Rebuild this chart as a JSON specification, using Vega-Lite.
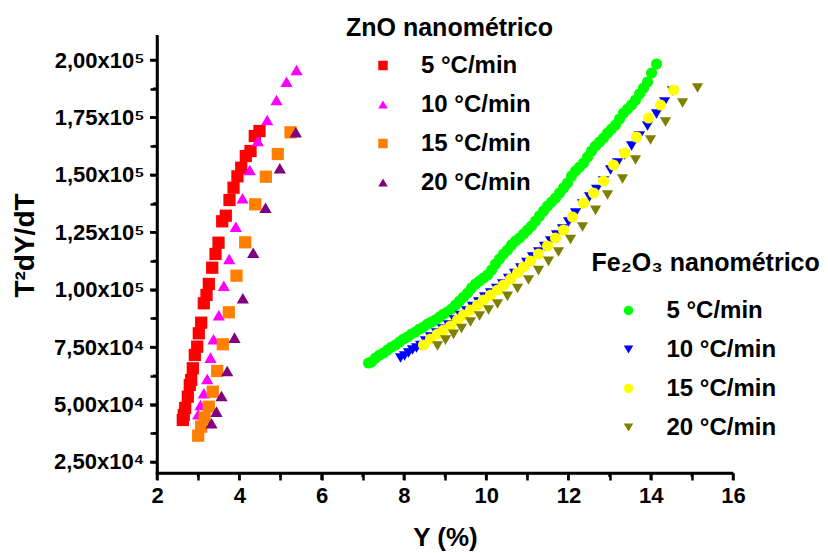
{
  "$schema": "https://vega.github.io/schema/vega-lite/v6.json",
  "width": 576,
  "height": 438,
  "autosize": {"type": "none"},
  "padding": {"left": 157, "top": 35, "right": 95, "bottom": 80},
  "config": {
    "view": {"stroke": null},
    "font": "Liberation Sans",
    "axis": {
      "grid": false,
      "domainColor": "#000000",
      "domainWidth": 2.5,
      "tickColor": "#000000",
      "tickWidth": 2.5,
      "labelColor": "black",
      "labelFontSize": 22,
      "labelFontWeight": "bold",
      "labelOverlap": false,
      "labelFlush": false,
      "titleColor": "black",
      "titleFontWeight": "bold"
    },
    "legend": {
      "orient": "none",
      "direction": "vertical",
      "padding": 0,
      "titleColor": "black",
      "labelColor": "black",
      "titleFontWeight": "bold",
      "labelFontWeight": "bold",
      "titleFontSize": 25,
      "labelFontSize": 24,
      "titleLimit": 400,
      "labelLimit": 300,
      "symbolSize": 90,
      "symbolOffset": 25,
      "labelOffset": 26,
      "rowPadding": 15
    }
  },
  "datasets": {
    "corner": [{"Y": 2, "T": 20200}],
    "xt": [{"v":2,"b":20200},{"v":3,"b":20200},{"v":4,"b":20200},{"v":5,"b":20200},{"v":6,"b":20200},{"v":7,"b":20200},{"v":8,"b":20200},{"v":9,"b":20200},{"v":10,"b":20200},{"v":11,"b":20200},{"v":12,"b":20200},{"v":13,"b":20200},{"v":14,"b":20200},{"v":15,"b":20200},{"v":16,"b":20200}],
    "yt": [{"a":2,"v":25000},{"a":2,"v":37500},{"a":2,"v":50000},{"a":2,"v":62500},{"a":2,"v":75000},{"a":2,"v":87500},{"a":2,"v":100000},{"a":2,"v":112500},{"a":2,"v":125000},{"a":2,"v":137500},{"a":2,"v":150000},{"a":2,"v":162500},{"a":2,"v":175000},{"a":2,"v":187500},{"a":2,"v":200000}],
    "zno": [
      {"Y":2.627,"T":43292,"s":"\u00a05 °C/min"},{"Y":2.651,"T":45469,"s":"\u00a05 °C/min"},{"Y":2.685,"T":48516,"s":"\u00a05 °C/min"},{"Y":2.749,"T":53433,"s":"\u00a05 °C/min"},{"Y":2.797,"T":58527,"s":"\u00a05 °C/min"},{"Y":2.831,"T":60704,"s":"\u00a05 °C/min"},{"Y":2.870,"T":65797,"s":"\u00a05 °C/min"},{"Y":2.919,"T":71587,"s":"\u00a05 °C/min"},{"Y":2.977,"T":75199,"s":"\u00a05 °C/min"},{"Y":3.016,"T":81032,"s":"\u00a05 °C/min"},{"Y":3.074,"T":85646,"s":"\u00a05 °C/min"},{"Y":3.138,"T":94091,"s":"\u00a05 °C/min"},{"Y":3.203,"T":97704,"s":"\u00a05 °C/min"},{"Y":3.259,"T":102493,"s":"\u00a05 °C/min"},{"Y":3.342,"T":109588,"s":"\u00a05 °C/min"},{"Y":3.422,"T":115552,"s":"\u00a05 °C/min"},{"Y":3.495,"T":120471,"s":"\u00a05 °C/min"},{"Y":3.585,"T":129786,"s":"\u00a05 °C/min"},{"Y":3.672,"T":132224,"s":"\u00a05 °C/min"},{"Y":3.762,"T":139058,"s":"\u00a05 °C/min"},{"Y":3.860,"T":144412,"s":"\u00a05 °C/min"},{"Y":3.955,"T":149375,"s":"\u00a05 °C/min"},{"Y":4.047,"T":153118,"s":"\u00a05 °C/min"},{"Y":4.158,"T":158211,"s":"\u00a05 °C/min"},{"Y":4.273,"T":160388,"s":"\u00a05 °C/min"},{"Y":4.377,"T":166917,"s":"\u00a05 °C/min"},{"Y":4.491,"T":169094,"s":"\u00a05 °C/min"},
      {"Y":3.001,"T":45773,"s":"10 °C/min"},{"Y":3.057,"T":49822,"s":"10 °C/min"},{"Y":3.138,"T":54915,"s":"10 °C/min"},{"Y":3.220,"T":61139,"s":"10 °C/min"},{"Y":3.300,"T":70411,"s":"10 °C/min"},{"Y":3.373,"T":78421,"s":"10 °C/min"},{"Y":3.502,"T":88868,"s":"10 °C/min"},{"Y":3.624,"T":101753,"s":"10 °C/min"},{"Y":3.755,"T":113375,"s":"10 °C/min"},{"Y":3.915,"T":127435,"s":"10 °C/min"},{"Y":4.078,"T":139798,"s":"10 °C/min"},{"Y":4.256,"T":152117,"s":"10 °C/min"},{"Y":4.450,"T":164741,"s":"10 °C/min"},{"Y":4.679,"T":173882,"s":"10 °C/min"},{"Y":4.905,"T":182588,"s":"10 °C/min"},{"Y":5.148,"T":190554,"s":"10 °C/min"},{"Y":5.391,"T":195647,"s":"10 °C/min"},
      {"Y":3.001,"T":36460,"s":"15 °C/min"},{"Y":3.074,"T":40376,"s":"15 °C/min"},{"Y":3.155,"T":44293,"s":"15 °C/min"},{"Y":3.259,"T":49082,"s":"15 °C/min"},{"Y":3.356,"T":55611,"s":"15 °C/min"},{"Y":3.463,"T":64622,"s":"15 °C/min"},{"Y":3.599,"T":76244,"s":"15 °C/min"},{"Y":3.745,"T":90172,"s":"15 °C/min"},{"Y":3.932,"T":106106,"s":"15 °C/min"},{"Y":4.144,"T":120645,"s":"15 °C/min"},{"Y":4.387,"T":137186,"s":"15 °C/min"},{"Y":4.645,"T":149200,"s":"15 °C/min"},{"Y":4.936,"T":159082,"s":"15 °C/min"},{"Y":5.245,"T":168528,"s":"15 °C/min"},
      {"Y":3.325,"T":41855,"s":"20 °C/min"},{"Y":3.446,"T":46903,"s":"20 °C/min"},{"Y":3.568,"T":53739,"s":"20 °C/min"},{"Y":3.706,"T":64622,"s":"20 °C/min"},{"Y":3.884,"T":79118,"s":"20 °C/min"},{"Y":4.086,"T":96266,"s":"20 °C/min"},{"Y":4.338,"T":116118,"s":"20 °C/min"},{"Y":4.637,"T":135706,"s":"20 °C/min"},{"Y":4.985,"T":152857,"s":"20 °C/min"},{"Y":5.374,"T":168528,"s":"20 °C/min"}
    ],
    "fe": [
      {"Y":7.141,"T":68104,"s":"5 °C/min"},{"Y":7.214,"T":68539,"s":"5 °C/min"},{"Y":7.311,"T":70281,"s":"5 °C/min"},{"Y":7.408,"T":71587,"s":"5 °C/min"},{"Y":7.506,"T":72457,"s":"5 °C/min"},{"Y":7.603,"T":73763,"s":"5 °C/min"},{"Y":7.700,"T":75069,"s":"5 °C/min"},{"Y":7.797,"T":75940,"s":"5 °C/min"},{"Y":7.894,"T":77246,"s":"5 °C/min"},{"Y":7.992,"T":78551,"s":"5 °C/min"},{"Y":8.089,"T":79422,"s":"5 °C/min"},{"Y":8.186,"T":80728,"s":"5 °C/min"},{"Y":8.283,"T":81598,"s":"5 °C/min"},{"Y":8.381,"T":82904,"s":"5 °C/min"},{"Y":8.478,"T":83775,"s":"5 °C/min"},{"Y":8.575,"T":85081,"s":"5 °C/min"},{"Y":8.672,"T":85951,"s":"5 °C/min"},{"Y":8.769,"T":86822,"s":"5 °C/min"},{"Y":8.867,"T":88128,"s":"5 °C/min"},{"Y":8.964,"T":89434,"s":"5 °C/min"},{"Y":9.061,"T":90304,"s":"5 °C/min"},{"Y":9.158,"T":91610,"s":"5 °C/min"},{"Y":9.256,"T":93351,"s":"5 °C/min"},{"Y":9.353,"T":95093,"s":"5 °C/min"},{"Y":9.450,"T":96834,"s":"5 °C/min"},{"Y":9.547,"T":98575,"s":"5 °C/min"},{"Y":9.645,"T":100752,"s":"5 °C/min"},{"Y":9.742,"T":102493,"s":"5 °C/min"},{"Y":9.839,"T":103799,"s":"5 °C/min"},{"Y":9.936,"T":105105,"s":"5 °C/min"},{"Y":10.034,"T":106410,"s":"5 °C/min"},{"Y":10.131,"T":108587,"s":"5 °C/min"},{"Y":10.228,"T":111198,"s":"5 °C/min"},{"Y":10.325,"T":113375,"s":"5 °C/min"},{"Y":10.422,"T":115551,"s":"5 °C/min"},{"Y":10.520,"T":117293,"s":"5 °C/min"},{"Y":10.617,"T":119469,"s":"5 °C/min"},{"Y":10.714,"T":121211,"s":"5 °C/min"},{"Y":10.811,"T":122517,"s":"5 °C/min"},{"Y":10.909,"T":124258,"s":"5 °C/min"},{"Y":11.006,"T":125999,"s":"5 °C/min"},{"Y":11.103,"T":127740,"s":"5 °C/min"},{"Y":11.200,"T":129917,"s":"5 °C/min"},{"Y":11.298,"T":132093,"s":"5 °C/min"},{"Y":11.395,"T":134270,"s":"5 °C/min"},{"Y":11.492,"T":136446,"s":"5 °C/min"},{"Y":11.589,"T":138187,"s":"5 °C/min"},{"Y":11.687,"T":139929,"s":"5 °C/min"},{"Y":11.784,"T":142105,"s":"5 °C/min"},{"Y":11.881,"T":144282,"s":"5 °C/min"},{"Y":11.978,"T":146458,"s":"5 °C/min"},{"Y":12.076,"T":149505,"s":"5 °C/min"},{"Y":12.173,"T":151682,"s":"5 °C/min"},{"Y":12.270,"T":153423,"s":"5 °C/min"},{"Y":12.367,"T":155164,"s":"5 °C/min"},{"Y":12.465,"T":157776,"s":"5 °C/min"},{"Y":12.562,"T":160388,"s":"5 °C/min"},{"Y":12.659,"T":162564,"s":"5 °C/min"},{"Y":12.756,"T":164305,"s":"5 °C/min"},{"Y":12.853,"T":166047,"s":"5 °C/min"},{"Y":12.951,"T":168223,"s":"5 °C/min"},{"Y":13.048,"T":169964,"s":"5 °C/min"},{"Y":13.145,"T":171706,"s":"5 °C/min"},{"Y":13.242,"T":174317,"s":"5 °C/min"},{"Y":13.340,"T":176929,"s":"5 °C/min"},{"Y":13.437,"T":178670,"s":"5 °C/min"},{"Y":13.534,"T":180412,"s":"5 °C/min"},{"Y":13.631,"T":182588,"s":"5 °C/min"},{"Y":13.728,"T":185200,"s":"5 °C/min"},{"Y":13.826,"T":187812,"s":"5 °C/min"},{"Y":13.923,"T":190423,"s":"5 °C/min"},{"Y":14.020,"T":194341,"s":"5 °C/min"},{"Y":14.141,"T":198259,"s":"5 °C/min"},
      {"Y":7.919,"T":70281,"s":"10 °C/min"},{"Y":8.016,"T":71152,"s":"10 °C/min"},{"Y":8.113,"T":72457,"s":"10 °C/min"},{"Y":8.210,"T":73763,"s":"10 °C/min"},{"Y":8.308,"T":74634,"s":"10 °C/min"},{"Y":8.405,"T":75722,"s":"10 °C/min"},{"Y":8.526,"T":77681,"s":"10 °C/min"},{"Y":8.648,"T":79422,"s":"10 °C/min"},{"Y":8.794,"T":81164,"s":"10 °C/min"},{"Y":8.940,"T":82905,"s":"10 °C/min"},{"Y":9.085,"T":84646,"s":"10 °C/min"},{"Y":9.231,"T":86822,"s":"10 °C/min"},{"Y":9.377,"T":88781,"s":"10 °C/min"},{"Y":9.523,"T":90740,"s":"10 °C/min"},{"Y":9.669,"T":92699,"s":"10 °C/min"},{"Y":9.815,"T":94658,"s":"10 °C/min"},{"Y":9.960,"T":96834,"s":"10 °C/min"},{"Y":10.106,"T":98575,"s":"10 °C/min"},{"Y":10.252,"T":100534,"s":"10 °C/min"},{"Y":10.398,"T":102493,"s":"10 °C/min"},{"Y":10.544,"T":104887,"s":"10 °C/min"},{"Y":10.690,"T":107064,"s":"10 °C/min"},{"Y":10.836,"T":109458,"s":"10 °C/min"},{"Y":10.982,"T":111852,"s":"10 °C/min"},{"Y":11.127,"T":114246,"s":"10 °C/min"},{"Y":11.273,"T":116424,"s":"10 °C/min"},{"Y":11.419,"T":118818,"s":"10 °C/min"},{"Y":11.565,"T":121212,"s":"10 °C/min"},{"Y":11.711,"T":123823,"s":"10 °C/min"},{"Y":11.857,"T":126435,"s":"10 °C/min"},{"Y":12.003,"T":129482,"s":"10 °C/min"},{"Y":12.173,"T":133400,"s":"10 °C/min"},{"Y":12.343,"T":137318,"s":"10 °C/min"},{"Y":12.513,"T":140365,"s":"10 °C/min"},{"Y":12.683,"T":143630,"s":"10 °C/min"},{"Y":12.853,"T":147329,"s":"10 °C/min"},{"Y":13.024,"T":152117,"s":"10 °C/min"},{"Y":13.194,"T":155164,"s":"10 °C/min"},{"Y":13.364,"T":158647,"s":"10 °C/min"},{"Y":13.534,"T":162564,"s":"10 °C/min"},{"Y":13.728,"T":166917,"s":"10 °C/min"},{"Y":13.923,"T":171270,"s":"10 °C/min"},{"Y":14.141,"T":176494,"s":"10 °C/min"},{"Y":14.336,"T":181717,"s":"10 °C/min"},{"Y":14.531,"T":186506,"s":"10 °C/min"},
      {"Y":8.478,"T":75940,"s":"15 °C/min"},{"Y":8.648,"T":78551,"s":"15 °C/min"},{"Y":8.818,"T":80728,"s":"15 °C/min"},{"Y":8.964,"T":82469,"s":"15 °C/min"},{"Y":9.134,"T":84210,"s":"15 °C/min"},{"Y":9.304,"T":86822,"s":"15 °C/min"},{"Y":9.450,"T":88998,"s":"15 °C/min"},{"Y":9.620,"T":91175,"s":"15 °C/min"},{"Y":9.791,"T":93351,"s":"15 °C/min"},{"Y":9.936,"T":95528,"s":"15 °C/min"},{"Y":10.106,"T":97704,"s":"15 °C/min"},{"Y":10.277,"T":99881,"s":"15 °C/min"},{"Y":10.422,"T":102058,"s":"15 °C/min"},{"Y":10.593,"T":104669,"s":"15 °C/min"},{"Y":10.763,"T":107281,"s":"15 °C/min"},{"Y":10.909,"T":109893,"s":"15 °C/min"},{"Y":11.079,"T":112505,"s":"15 °C/min"},{"Y":11.273,"T":115552,"s":"15 °C/min"},{"Y":11.492,"T":119034,"s":"15 °C/min"},{"Y":11.687,"T":122517,"s":"15 °C/min"},{"Y":11.881,"T":125999,"s":"15 °C/min"},{"Y":12.100,"T":131658,"s":"15 °C/min"},{"Y":12.367,"T":137752,"s":"15 °C/min"},{"Y":12.610,"T":142105,"s":"15 °C/min"},{"Y":12.853,"T":147329,"s":"15 °C/min"},{"Y":13.096,"T":154294,"s":"15 °C/min"},{"Y":13.364,"T":159517,"s":"15 °C/min"},{"Y":13.655,"T":166482,"s":"15 °C/min"},{"Y":13.947,"T":174753,"s":"15 °C/min"},{"Y":14.239,"T":180412,"s":"15 °C/min"},{"Y":14.555,"T":186941,"s":"15 °C/min"},
      {"Y":8.818,"T":75504,"s":"20 °C/min"},{"Y":9.012,"T":78029,"s":"20 °C/min"},{"Y":9.207,"T":80554,"s":"20 °C/min"},{"Y":9.401,"T":83122,"s":"20 °C/min"},{"Y":9.620,"T":85951,"s":"20 °C/min"},{"Y":9.839,"T":88563,"s":"20 °C/min"},{"Y":10.058,"T":91175,"s":"20 °C/min"},{"Y":10.277,"T":93787,"s":"20 °C/min"},{"Y":10.520,"T":97139,"s":"20 °C/min"},{"Y":10.763,"T":100534,"s":"20 °C/min"},{"Y":11.030,"T":104234,"s":"20 °C/min"},{"Y":11.273,"T":108282,"s":"20 °C/min"},{"Y":11.516,"T":112374,"s":"20 °C/min"},{"Y":11.759,"T":116424,"s":"20 °C/min"},{"Y":12.051,"T":121865,"s":"20 °C/min"},{"Y":12.343,"T":127306,"s":"20 °C/min"},{"Y":12.659,"T":134532,"s":"20 °C/min"},{"Y":12.951,"T":141236,"s":"20 °C/min"},{"Y":13.315,"T":148201,"s":"20 °C/min"},{"Y":13.631,"T":156470,"s":"20 °C/min"},{"Y":13.996,"T":165176,"s":"20 °C/min"},{"Y":14.360,"T":173011,"s":"20 °C/min"},{"Y":14.774,"T":181282,"s":"20 °C/min"},{"Y":15.138,"T":187812,"s":"20 °C/min"}
    ]
  },
  "encoding": {
    "x": {
      "field": "Y", "type": "quantitative",
      "scale": {"domain": [2, 16], "nice": false, "zero": false},
      "axis": {
        "title": "Y (%)",
        "values": [2,3,4,5,6,7,8,9,10,11,12,13,14,15,16],
        "labelExpr": "datum.value % 2 == 0 ? datum.label : ''",
        "tickSize": 7,
        "labelPadding": 5,
        "titleFontSize": 26,
        "titleY": 72,
        "titleBaseline": "alphabetic"
      }
    },
    "y": {
      "field": "T", "type": "quantitative",
      "scale": {"domain": [20200, 210900], "nice": false, "zero": false},
      "axis": {
        "title": "T²dY/dT",
        "values": [25000,37500,50000,62500,75000,87500,100000,112500,125000,137500,150000,162500,175000,187500,200000],
        "labelExpr": "datum.value % 25000 != 0 ? '' : (datum.value < 100000 ? replace(format(datum.value/10000, '.2f'), '.', ',') + 'x10⁴' : replace(format(datum.value/100000, '.2f'), '.', ',') + 'x10⁵')",
        "tickSize": 7,
        "labelPadding": 6,
        "titleFontSize": 28,
        "titleX": -124,
        "titleY": 210,
        "titleBaseline": "alphabetic"
      }
    }
  },
  "layer": [
    {
      "data": {"name": "corner"},
      "mark": {"type": "point", "filled": true, "opacity": 1, "fill": "#000000", "strokeWidth": 0, "size": 767376, "shape": "M-0.00285,0.00285H0.00285V-1H-0.00285Z"}
    },
    {
      "data": {"name": "corner"},
      "mark": {"type": "point", "filled": true, "opacity": 1, "fill": "#000000", "strokeWidth": 0, "size": 1327104, "shape": "M-0.00217,-0.00217H1V0.00217H-0.00217Z"}
    },
    {
      "data": {"name": "xt"},
      "transform": [{"filter": "datum.v % 2 == 0"}],
      "mark": {"type": "point", "filled": true, "opacity": 1, "fill": "#000000", "strokeWidth": 0, "size": 196, "shape": "M-0.18,0H0.18V1H-0.18Z"},
      "encoding": {"x": {"field": "v", "type": "quantitative"}, "y": {"field": "b", "type": "quantitative"}}
    },
    {
      "data": {"name": "xt"},
      "transform": [{"filter": "datum.v % 2 != 0"}],
      "mark": {"type": "point", "filled": true, "opacity": 1, "fill": "#000000", "strokeWidth": 0, "size": 196, "shape": "M-0.18,0H0.18V0.57H-0.18Z"},
      "encoding": {"x": {"field": "v", "type": "quantitative"}, "y": {"field": "b", "type": "quantitative"}}
    },
    {
      "data": {"name": "yt"},
      "transform": [{"filter": "datum.v % 25000 == 0"}],
      "mark": {"type": "point", "filled": true, "opacity": 1, "fill": "#000000", "strokeWidth": 0, "size": 196, "shape": "M0,-0.18V0.18H-1V-0.18Z"},
      "encoding": {"y": {"field": "v", "type": "quantitative"}, "x": {"field": "a", "type": "quantitative"}}
    },
    {
      "data": {"name": "yt"},
      "transform": [{"filter": "datum.v % 25000 != 0"}],
      "mark": {"type": "point", "filled": true, "opacity": 1, "fill": "#000000", "strokeWidth": 0, "size": 196, "shape": "M0,-0.18V0.18H-0.57V-0.18Z"},
      "encoding": {"y": {"field": "v", "type": "quantitative"}, "x": {"field": "a", "type": "quantitative"}}
    },
    {
      "data": {"name": "zno"},
      "mark": {"type": "point", "filled": true, "opacity": 1, "size": 150},
      "encoding": {
        "color": {
          "field": "s", "type": "nominal",
          "scale": {"domain": ["\u00a05 °C/min", "10 °C/min", "15 °C/min", "20 °C/min"], "range": ["#FF0000", "#FF00FF", "#FF8000", "#800080"]},
          "legend": {"title": "ZnO nanométrico", "legendX": 189, "legendY": -19.5, "titlePadding": 13}
        },
        "shape": {
          "field": "s", "type": "nominal",
          "scale": {"domain": ["\u00a05 °C/min", "10 °C/min", "15 °C/min", "20 °C/min"], "range": ["square", "triangle-up", "square", "triangle-up"]},
          "legend": {"title": "ZnO nanométrico", "legendX": 189, "legendY": -19.5, "titlePadding": 13}
        }
      }
    },
    {
      "data": {"name": "fe"},
      "mark": {"type": "point", "filled": true, "opacity": 1, "size": 125},
      "encoding": {
        "color": {
          "field": "s", "type": "nominal",
          "scale": {"domain": ["5 °C/min", "10 °C/min", "15 °C/min", "20 °C/min"], "range": ["#00FF00", "#0000FF", "#FFFF00", "#808000"]},
          "legend": {"title": "Fe₂O₃ nanométrico", "legendX": 434.5, "legendY": 215.5, "titlePadding": 23}
        },
        "shape": {
          "field": "s", "type": "nominal",
          "scale": {"domain": ["5 °C/min", "10 °C/min", "15 °C/min", "20 °C/min"], "range": ["circle", "triangle-down", "circle", "triangle-down"]},
          "legend": {"title": "Fe₂O₃ nanométrico", "legendX": 434.5, "legendY": 215.5, "titlePadding": 23}
        }
      }
    }
  ],
  "resolve": {"scale": {"color": "independent", "shape": "independent"}}
}
